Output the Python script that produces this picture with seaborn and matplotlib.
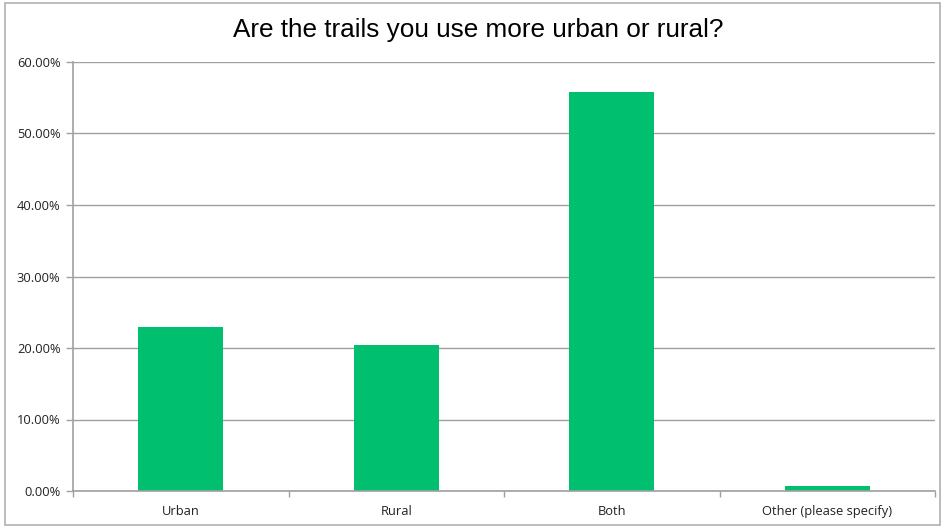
import matplotlib
matplotlib.use("Agg")
import matplotlib.pyplot as plt
import seaborn as sns
import pandas as pd
from matplotlib.ticker import FixedLocator, FuncFormatter
from matplotlib.patches import Rectangle

categories = ["Urban", "Rural", "Both", "Other (please specify)"]
values = [0.2295, 0.2040, 0.5580, 0.0070]
yticks = [0.0, 0.1, 0.2, 0.3, 0.4, 0.5, 0.6]
title = "Are the trails you use more urban or rural?"

sns.set_theme(style="white")
plt.rcParams['font.family'] = ['Open Sans', 'DejaVu Sans']

df = pd.DataFrame({"cat": categories, "val": values})

fig = plt.figure(figsize=(9.41, 5.27), dpi=100)
ax = fig.add_axes([73/941, 36/527, 862/941, 429/527])

sns.barplot(data=df, x="cat", y="val", color="#00BF6F", saturation=1,
            width=0.395, ax=ax, edgecolor="none")

ax.set_ylim(0, 0.6)
ax.set_xlim(-0.5, 3.5)
ax.yaxis.set_major_locator(FixedLocator(yticks))
ax.yaxis.set_major_formatter(FuncFormatter(lambda v, p: f"{v*100:.2f}%"))
ax.grid(axis="y", color="#A0A0A0", linewidth=1)
ax.set_axisbelow(True)
ax.set_xlabel("")
ax.set_ylabel("")

for s in ["top", "right"]:
    ax.spines[s].set_visible(False)
for s in ["left", "bottom"]:
    ax.spines[s].set_color("#A0A0A0")
    ax.spines[s].set_linewidth(1.2)

ax.tick_params(axis="y", which="major", direction="out", length=5, width=1,
               color="#A0A0A0", labelsize=9.3, labelcolor="#222222", pad=4, left=True)
ax.tick_params(axis="x", which="major", length=0, labelsize=9.3,
               labelcolor="#222222", pad=10)
ax.xaxis.set_minor_locator(FixedLocator([-0.5, 0.5, 1.5, 2.5, 3.5]))
ax.tick_params(axis="x", which="minor", direction="out", length=4, width=1,
               color="#A0A0A0", bottom=True)

fig.text(478/941, 1 - 30/527, title, ha="center", va="center",
         fontsize=18.8, family=["Liberation Sans", "DejaVu Sans"], color="#000000")

fig.patches.append(Rectangle((5/941, 2/527), 935/941, 522/527, transform=fig.transFigure,
                             fill=False, edgecolor="#B0B0B0", linewidth=1.2))

fig.savefig("out.png", dpi=100)
